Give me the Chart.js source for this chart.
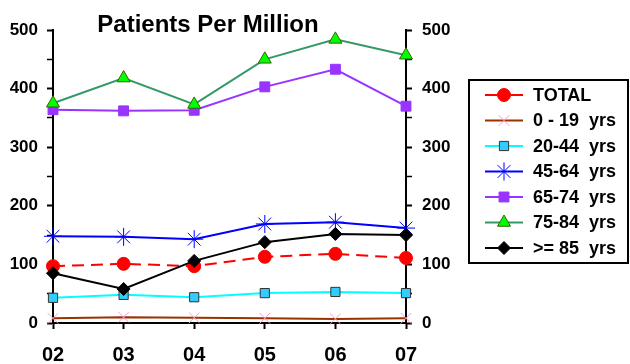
<!DOCTYPE html>
<html lang="en">
<head>
  <meta charset="UTF-8">
  <title>Patients Per Million</title>
  <script src="https://cdn.jsdelivr.net/npm/chart.js"></script>
  <style>
    body { margin: 0; background: #fff; }
    #wrap { width: 630px; height: 364px; position: relative; }
  </style>
</head>
<body>
  <div id="wrap"><canvas id="ppmChart"></canvas></div>

  <script>
    const years = ['02', '03', '04', '05', '06', '07'];
    const seriesNames = ['TOTAL', '0 - 19  yrs', '20-44  yrs', '45-64  yrs', '65-74  yrs', '75-84  yrs', '>= 85  yrs'];
    const total    = [97, 101, 97, 113, 118, 111];
    const age0_19  = [8, 10, 9, 8, 7, 8];
    const age20_44 = [43, 48, 44, 51, 53, 51];
    const age45_64 = [148, 147, 143, 169, 172, 162];
    const age65_74 = [364, 362, 363, 403, 433, 370];
    const age75_84 = [375, 418, 373, 450, 484, 457];
    const age85up  = [85, 58, 106, 138, 152, 150];
    const yTicks = [0, 100, 200, 300, 400, 500];

    const FONT = '"Liberation Sans", Arial, sans-serif';

    function ds(label, data, line, style, radius, fill, border, extra) {
      return Object.assign({
        label: label,
        data: data,
        borderColor: line,
        borderWidth: 2,
        pointStyle: style,
        pointRadius: radius,
        pointHoverRadius: radius,
        pointBackgroundColor: fill,
        pointBorderColor: border,
        pointBorderWidth: 1,
        tension: 0,
        clip: false
      }, extra || {});
    }

    const datasets = [
      ds(seriesNames[0], total, '#ff0000', 'circle', 6.5, '#ff0000', '#ff0000', { borderDash: [12, 7], order: 2 }),
      ds(seriesNames[1], age0_19, '#993300', 'crossRot', 7.5, '#ff99cc', '#ff99cc', { order: 6 }),
      ds(seriesNames[2], age20_44, '#00ffff', 'rect', 6.5, '#33ccff', '#333333', { order: 5 }),
      ds(seriesNames[3], age45_64, '#0000ff', 'star', 9, '#0000ff', '#0000ff', { order: 4 }),
      ds(seriesNames[4], age65_74, '#9933ff', 'rect', 7, '#9933ff', '#9933ff', { order: 3 }),
      ds(seriesNames[5], age75_84, '#339966', 'triangle', 7.5, '#00ff00', '#336600', { order: 1 }),
      ds(seriesNames[6], age85up, '#000000', 'rectRot', 6.5, '#000000', '#000000', { order: 0 })
    ];

    function yScale(pos, pad) {
      return {
        position: pos,
        min: 0,
        max: 500,
        afterBuildTicks: s => {
          s.ticks = [];
          for (let v = 0; v <= 500; v += 50) s.ticks.push({ value: v });
        },
        ticks: {
          color: '#000',
          font: { family: FONT, size: 17, weight: 'bold' },
          padding: pad,
          callback: v => yTicks.includes(v) ? v : ''
        },
        grid: {
          drawOnChartArea: false,
          drawTicks: true,
          tickLength: 6,
          color: '#000',
          tickWidth: ctx => (ctx.tick && ctx.tick.value % 100 === 0) ? 2 : 1.5
        },
        border: { display: true, color: '#000', width: 2 }
      };
    }

    const legendBox = {
      id: 'legendBox',
      afterDraw(chart) {
        const ctx = chart.ctx;
        ctx.save();
        // title
        ctx.fillStyle = '#000';
        ctx.font = 'bold 24px ' + FONT;
        ctx.textAlign = 'center';
        ctx.textBaseline = 'alphabetic';
        ctx.fillText('Patients Per Million', 208, 32);

        // legend frame
        ctx.strokeStyle = '#000';
        ctx.lineWidth = 2;
        ctx.strokeRect(469, 80, 159, 183);

        ctx.font = 'bold 18px ' + FONT;
        ctx.textAlign = 'left';
        ctx.textBaseline = 'middle';
        chart.data.datasets.forEach((d, i) => {
          const y = 95 + i * 25.5;
          ctx.save();
          ctx.strokeStyle = d.borderColor;
          ctx.lineWidth = 2;
          ctx.beginPath();
          ctx.moveTo(485, y);
          ctx.lineTo(523, y);
          ctx.stroke();
          ctx.fillStyle = d.pointBackgroundColor;
          ctx.strokeStyle = d.pointBorderColor;
          ctx.lineWidth = 1;
          Chart.helpers.drawPoint(ctx, {
            pointStyle: d.pointStyle,
            radius: d.pointRadius,
            rotation: 0,
            borderWidth: 1
          }, 504, y);
          ctx.restore();
          ctx.fillStyle = '#000';
          ctx.fillText(d.label, 533, y + 1);
        });
        ctx.restore();
      }
    };

    new Chart(document.getElementById('ppmChart'), {
      type: 'line',
      data: { labels: years, datasets: datasets },
      options: {
        responsive: true,
        maintainAspectRatio: false,
        animation: false,
        layout: { padding: { top: 30, right: 164, left: 0, bottom: 0 } },
        plugins: {
          legend: { display: false },
          title: { display: false },
          tooltip: { enabled: false }
        },
        scales: {
          x: {
            offset: false,
            afterFit: s => { s.height = 41; },
            ticks: {
              color: '#000',
              font: { family: FONT, size: 20, weight: 'bold' },
              padding: 14,
              maxRotation: 0
            },
            grid: {
              drawOnChartArea: false,
              drawTicks: true,
              tickLength: 6,
              color: '#000',
              tickWidth: 2
            },
            border: { display: true, color: '#000', width: 2 }
          },
          y: Object.assign(yScale('left', 9), { afterFit: s => { s.width = 53; } }),
          y2: Object.assign(yScale('right', 10), { afterFit: s => { s.width = 60; } })
        }
      },
      plugins: [legendBox]
    });
  </script>
</body>
</html>
